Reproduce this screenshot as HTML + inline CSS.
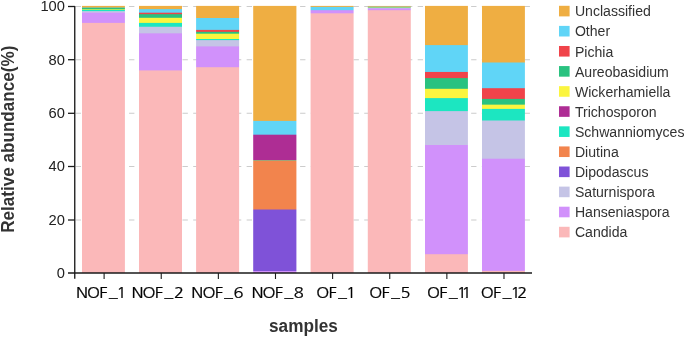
<!DOCTYPE html>
<html lang="en"><head><meta charset="utf-8"><title>Relative abundance</title>
<style>
html,body{margin:0;padding:0;background:#fff;}
body{width:685px;height:337px;overflow:hidden;}
svg{display:block;font-family:"Liberation Sans",sans-serif;}
.tk{font-size:14.7px;fill:#222;}
.xl{font-family:"NanumGothic","Liberation Sans",sans-serif;font-size:16.5px;fill:#000;stroke:#000;stroke-width:0.3px;}
.lg{font-size:14.1px;fill:#333;}
.ti{font-size:17.2px;font-weight:bold;fill:#333;}
</style></head><body>
<svg width="685" height="337" viewBox="0 0 685 337">
<rect width="685" height="337" fill="#fff"/>
<g stroke="#cccccc" stroke-width="1.1" stroke-dasharray="5.35 5.34" stroke-dashoffset="-0.1" fill="none">
<line x1="75.5" x2="532" y1="220.00" y2="220.00"/>
<line x1="75.5" x2="532" y1="166.50" y2="166.50"/>
<line x1="75.5" x2="532" y1="113.30" y2="113.30"/>
<line x1="75.5" x2="532" y1="59.70" y2="59.70"/>
<line x1="75.5" x2="532" y1="6.50" y2="6.50"/>
</g>
<g>
<rect x="82" y="5.9" width="42" height="267.10" fill="#EFAE42"/><rect x="82" y="7.65" width="42" height="265.35" fill="#60D5F7"/><rect x="82" y="7.82" width="42" height="265.18" fill="#29C280"/><rect x="82" y="9.25" width="42" height="263.75" fill="#FBF53F"/><rect x="82" y="9.85" width="42" height="263.15" fill="#1CE6C1"/><rect x="82" y="11.1" width="42" height="261.90" fill="#C5C4E6"/><rect x="82" y="12.65" width="42" height="260.35" fill="#D191FB"/><rect x="82" y="22.9" width="42" height="250.10" fill="#FBB8B9"/>
<g opacity="0.90"><rect x="124" y="5.9" width="1" height="267.10" fill="#EFAE42"/><rect x="124" y="7.65" width="1" height="265.35" fill="#60D5F7"/><rect x="124" y="7.82" width="1" height="265.18" fill="#29C280"/><rect x="124" y="9.25" width="1" height="263.75" fill="#FBF53F"/><rect x="124" y="9.85" width="1" height="263.15" fill="#1CE6C1"/><rect x="124" y="11.1" width="1" height="261.90" fill="#C5C4E6"/><rect x="124" y="12.65" width="1" height="260.35" fill="#D191FB"/><rect x="124" y="22.9" width="1" height="250.10" fill="#FBB8B9"/></g>
<rect x="139" y="5.9" width="43" height="267.10" fill="#EFAE42"/><rect x="139" y="9.1" width="43" height="263.90" fill="#60D5F7"/><rect x="139" y="12.7" width="43" height="260.30" fill="#F0434A"/><rect x="139" y="14.2" width="43" height="258.80" fill="#29C280"/><rect x="139" y="17.8" width="43" height="255.20" fill="#FBF53F"/><rect x="139" y="22.9" width="43" height="250.10" fill="#1CE6C1"/><rect x="139" y="26.75" width="43" height="246.25" fill="#C5C4E6"/><rect x="139" y="33.35" width="43" height="239.65" fill="#D191FB"/><rect x="139" y="70.4" width="43" height="202.60" fill="#FBB8B9"/>
<rect x="197" y="5.9" width="42" height="267.10" fill="#EFAE42"/><rect x="197" y="18" width="42" height="255.00" fill="#60D5F7"/><rect x="197" y="29.9" width="42" height="243.10" fill="#F0434A"/><rect x="197" y="31.86" width="42" height="241.14" fill="#29C280"/><rect x="197" y="33.7" width="42" height="239.30" fill="#FBF53F"/><rect x="197" y="39" width="42" height="234.00" fill="#1CE6C1"/><rect x="197" y="40.1" width="42" height="232.90" fill="#C5C4E6"/><rect x="197" y="46.4" width="42" height="226.60" fill="#D191FB"/><rect x="197" y="67.2" width="42" height="205.80" fill="#FBB8B9"/>
<g opacity="0.90"><rect x="196" y="5.9" width="1" height="267.10" fill="#EFAE42"/><rect x="196" y="18" width="1" height="255.00" fill="#60D5F7"/><rect x="196" y="29.9" width="1" height="243.10" fill="#F0434A"/><rect x="196" y="31.86" width="1" height="241.14" fill="#29C280"/><rect x="196" y="33.7" width="1" height="239.30" fill="#FBF53F"/><rect x="196" y="39" width="1" height="234.00" fill="#1CE6C1"/><rect x="196" y="40.1" width="1" height="232.90" fill="#C5C4E6"/><rect x="196" y="46.4" width="1" height="226.60" fill="#D191FB"/><rect x="196" y="67.2" width="1" height="205.80" fill="#FBB8B9"/></g>
<g opacity="0.10"><rect x="239" y="5.9" width="1" height="267.10" fill="#EFAE42"/><rect x="239" y="18" width="1" height="255.00" fill="#60D5F7"/><rect x="239" y="29.9" width="1" height="243.10" fill="#F0434A"/><rect x="239" y="31.86" width="1" height="241.14" fill="#29C280"/><rect x="239" y="33.7" width="1" height="239.30" fill="#FBF53F"/><rect x="239" y="39" width="1" height="234.00" fill="#1CE6C1"/><rect x="239" y="40.1" width="1" height="232.90" fill="#C5C4E6"/><rect x="239" y="46.4" width="1" height="226.60" fill="#D191FB"/><rect x="239" y="67.2" width="1" height="205.80" fill="#FBB8B9"/></g>
<rect x="254" y="5.9" width="42" height="267.10" fill="#EFAE42"/><rect x="254" y="120.9" width="42" height="152.10" fill="#60D5F7"/><rect x="254" y="134.7" width="42" height="138.30" fill="#AE2D94"/><rect x="254" y="160.1" width="42" height="112.90" fill="#1CE6C1"/><rect x="254" y="160.4" width="42" height="112.60" fill="#F2844D"/><rect x="254" y="209.5" width="42" height="63.50" fill="#7F52D8"/><rect x="254" y="271" width="42" height="2.00" fill="#D191FB"/>
<g opacity="0.80"><rect x="253" y="5.9" width="1" height="267.10" fill="#EFAE42"/><rect x="253" y="120.9" width="1" height="152.10" fill="#60D5F7"/><rect x="253" y="134.7" width="1" height="138.30" fill="#AE2D94"/><rect x="253" y="160.1" width="1" height="112.90" fill="#1CE6C1"/><rect x="253" y="160.4" width="1" height="112.60" fill="#F2844D"/><rect x="253" y="209.5" width="1" height="63.50" fill="#7F52D8"/><rect x="253" y="271" width="1" height="2.00" fill="#D191FB"/></g>
<g opacity="0.40"><rect x="296" y="5.9" width="1" height="267.10" fill="#EFAE42"/><rect x="296" y="120.9" width="1" height="152.10" fill="#60D5F7"/><rect x="296" y="134.7" width="1" height="138.30" fill="#AE2D94"/><rect x="296" y="160.1" width="1" height="112.90" fill="#1CE6C1"/><rect x="296" y="160.4" width="1" height="112.60" fill="#F2844D"/><rect x="296" y="209.5" width="1" height="63.50" fill="#7F52D8"/><rect x="296" y="271" width="1" height="2.00" fill="#D191FB"/></g>
<rect x="311" y="5.9" width="42" height="267.10" fill="#EFAE42"/><rect x="311" y="6.9" width="42" height="266.10" fill="#60D5F7"/><rect x="311" y="10.2" width="42" height="262.80" fill="#D191FB"/><rect x="311" y="13.3" width="42" height="259.70" fill="#FBB8B9"/>
<g opacity="0.40"><rect x="310" y="5.9" width="1" height="267.10" fill="#EFAE42"/><rect x="310" y="6.9" width="1" height="266.10" fill="#60D5F7"/><rect x="310" y="10.2" width="1" height="262.80" fill="#D191FB"/><rect x="310" y="13.3" width="1" height="259.70" fill="#FBB8B9"/></g>
<g opacity="0.60"><rect x="353" y="5.9" width="1" height="267.10" fill="#EFAE42"/><rect x="353" y="6.9" width="1" height="266.10" fill="#60D5F7"/><rect x="353" y="10.2" width="1" height="262.80" fill="#D191FB"/><rect x="353" y="13.3" width="1" height="259.70" fill="#FBB8B9"/></g>
<rect x="368" y="5.95" width="42" height="267.05" fill="#EFAE42"/><rect x="368" y="6.7" width="42" height="266.30" fill="#60D5F7"/><rect x="368" y="7.35" width="42" height="265.65" fill="#29C280"/><rect x="368" y="7.6" width="42" height="265.40" fill="#FBF53F"/><rect x="368" y="7.85" width="42" height="265.15" fill="#C5C4E6"/><rect x="368" y="8.4" width="42" height="264.60" fill="#D191FB"/><rect x="368" y="10.2" width="42" height="262.80" fill="#FBB8B9"/>
<g opacity="0.20"><rect x="367" y="5.95" width="1" height="267.05" fill="#EFAE42"/><rect x="367" y="6.7" width="1" height="266.30" fill="#60D5F7"/><rect x="367" y="7.35" width="1" height="265.65" fill="#29C280"/><rect x="367" y="7.6" width="1" height="265.40" fill="#FBF53F"/><rect x="367" y="7.85" width="1" height="265.15" fill="#C5C4E6"/><rect x="367" y="8.4" width="1" height="264.60" fill="#D191FB"/><rect x="367" y="10.2" width="1" height="262.80" fill="#FBB8B9"/></g>
<g opacity="0.80"><rect x="410" y="5.95" width="1" height="267.05" fill="#EFAE42"/><rect x="410" y="6.7" width="1" height="266.30" fill="#60D5F7"/><rect x="410" y="7.35" width="1" height="265.65" fill="#29C280"/><rect x="410" y="7.6" width="1" height="265.40" fill="#FBF53F"/><rect x="410" y="7.85" width="1" height="265.15" fill="#C5C4E6"/><rect x="410" y="8.4" width="1" height="264.60" fill="#D191FB"/><rect x="410" y="10.2" width="1" height="262.80" fill="#FBB8B9"/></g>
<rect x="425" y="5.9" width="42" height="267.10" fill="#EFAE42"/><rect x="425" y="45.1" width="42" height="227.90" fill="#60D5F7"/><rect x="425" y="71.95" width="42" height="201.05" fill="#F0434A"/><rect x="425" y="78.1" width="42" height="194.90" fill="#29C280"/><rect x="425" y="88.8" width="42" height="184.20" fill="#FBF53F"/><rect x="425" y="98.1" width="42" height="174.90" fill="#1CE6C1"/><rect x="425" y="111.1" width="42" height="161.90" fill="#C5C4E6"/><rect x="425" y="145" width="42" height="128.00" fill="#D191FB"/><rect x="425" y="254.2" width="42" height="18.80" fill="#FBB8B9"/>
<g opacity="0.90"><rect x="467" y="5.9" width="1" height="267.10" fill="#EFAE42"/><rect x="467" y="45.1" width="1" height="227.90" fill="#60D5F7"/><rect x="467" y="71.95" width="1" height="201.05" fill="#F0434A"/><rect x="467" y="78.1" width="1" height="194.90" fill="#29C280"/><rect x="467" y="88.8" width="1" height="184.20" fill="#FBF53F"/><rect x="467" y="98.1" width="1" height="174.90" fill="#1CE6C1"/><rect x="467" y="111.1" width="1" height="161.90" fill="#C5C4E6"/><rect x="467" y="145" width="1" height="128.00" fill="#D191FB"/><rect x="467" y="254.2" width="1" height="18.80" fill="#FBB8B9"/></g>
<rect x="482" y="5.9" width="42" height="267.10" fill="#EFAE42"/><rect x="482" y="62.5" width="42" height="210.50" fill="#60D5F7"/><rect x="482" y="88.2" width="42" height="184.80" fill="#F0434A"/><rect x="482" y="98.9" width="42" height="174.10" fill="#29C280"/><rect x="482" y="104.65" width="42" height="168.35" fill="#FBF53F"/><rect x="482" y="108.9" width="42" height="164.10" fill="#1CE6C1"/><rect x="482" y="120.5" width="42" height="152.50" fill="#C5C4E6"/><rect x="482" y="158.7" width="42" height="114.30" fill="#D191FB"/><rect x="482" y="270.9" width="42" height="2.10" fill="#FBB8B9"/>
<g opacity="0.90"><rect x="524" y="5.9" width="1" height="267.10" fill="#EFAE42"/><rect x="524" y="62.5" width="1" height="210.50" fill="#60D5F7"/><rect x="524" y="88.2" width="1" height="184.80" fill="#F0434A"/><rect x="524" y="98.9" width="1" height="174.10" fill="#29C280"/><rect x="524" y="104.65" width="1" height="168.35" fill="#FBF53F"/><rect x="524" y="108.9" width="1" height="164.10" fill="#1CE6C1"/><rect x="524" y="120.5" width="1" height="152.50" fill="#C5C4E6"/><rect x="524" y="158.7" width="1" height="114.30" fill="#D191FB"/><rect x="524" y="270.9" width="1" height="2.10" fill="#FBB8B9"/></g>
</g>
<g stroke="#1c1c1c" stroke-width="1.3" fill="none">
<line x1="74.75" x2="74.75" y1="5.9" y2="278.8" stroke-width="1.35"/>
<line x1="68" x2="532" y1="272.95" y2="272.95" stroke="#1a1a1a" stroke-width="1.5"/>
<line x1="68" x2="75" y1="220.00" y2="220.00"/>
<line x1="68" x2="75" y1="166.50" y2="166.50"/>
<line x1="68" x2="75" y1="113.30" y2="113.30"/>
<line x1="68" x2="75" y1="59.70" y2="59.70"/>
<line x1="68" x2="75" y1="6.50" y2="6.50"/>
<line x1="104.11" x2="104.11" y1="273" y2="279" stroke-width="1.1"/>
<line x1="161.24" x2="161.24" y1="273" y2="279" stroke-width="1.1"/>
<line x1="218.36" x2="218.36" y1="273" y2="279" stroke-width="1.1"/>
<line x1="275.49" x2="275.49" y1="273" y2="279" stroke-width="1.1"/>
<line x1="332.61" x2="332.61" y1="273" y2="279" stroke-width="1.1"/>
<line x1="389.74" x2="389.74" y1="273" y2="279" stroke-width="1.1"/>
<line x1="446.86" x2="446.86" y1="273" y2="279" stroke-width="1.1"/>
<line x1="503.99" x2="503.99" y1="273" y2="279" stroke-width="1.1"/>
</g>
<g class="tk" text-anchor="end">
<text transform="translate(64.9,277.95) scale(1,1.04)">0</text>
<text transform="translate(64.9,224.95) scale(1,1.04)">20</text>
<text transform="translate(64.9,171.45) scale(1,1.04)">40</text>
<text transform="translate(64.9,118.25) scale(1,1.04)">60</text>
<text transform="translate(64.9,64.65) scale(1,1.04)">80</text>
<text transform="translate(64.9,11.45) scale(1,1.04)">100</text>
</g>
<g class="xl" transform="translate(0,297.55) scale(1,0.83)">
<text y="0" x="76.01 87.13 99.34 108.73 116.48" dy="0 0 0 -0.5 0.5">NOF_1</text>
<text y="0" x="131.51 142.63 154.84 164.23 174.00" dy="0 0 0 -0.5 0.5">NOF_2</text>
<text y="0" x="191.31 202.43 214.64 224.03 233.50" dy="0 0 0 -0.5 0.5">NOF_6</text>
<text y="0" x="251.51 262.63 274.84 284.23 293.74" dy="0 0 0 -0.5 0.5">NOF_8</text>
<text y="0" x="316.23 328.49 337.89 345.89" dy="0 0 -0.5 0.5">OF_1</text>
<text y="0" x="369.23 381.49 390.89 400.57" dy="0 0 -0.5 0.5">OF_5</text>
<text y="0" x="427.03 439.29 448.69 456.69 461.54" dy="0 0 -0.5 0.5 0">OF_11</text>
<text y="0" x="480.83 493.09 502.49 510.49 517.26" dy="0 0 -0.5 0.5 0">OF_12</text>
</g>
<text class="ti" text-anchor="middle" transform="translate(303.4,332.1) scale(1,1.04)">samples</text>
<text class="ti" style="font-size:17.1px" text-anchor="middle" transform="translate(13.9,139.2) rotate(-90) scale(1,1.08)">Relative abundance(%)</text>
<g class="lg">
<rect x="559" y="5.80" width="10.6" height="10.6" fill="#EFAE42"/>
<text transform="translate(574.9,16.35) scale(1,1.03)">Unclassified</text>
<rect x="559" y="25.89" width="10.6" height="10.6" fill="#60D5F7"/>
<text transform="translate(574.9,36.44) scale(1,1.03)">Other</text>
<rect x="559" y="45.98" width="10.6" height="10.6" fill="#F0434A"/>
<text transform="translate(574.9,56.53) scale(1,1.03)">Pichia</text>
<rect x="559" y="66.07" width="10.6" height="10.6" fill="#29C280"/>
<text transform="translate(574.9,76.62) scale(1,1.03)">Aureobasidium</text>
<rect x="559" y="86.16" width="10.6" height="10.6" fill="#FBF53F"/>
<text transform="translate(574.9,96.71) scale(1,1.03)">Wickerhamiella</text>
<rect x="559" y="106.25" width="10.6" height="10.6" fill="#AE2D94"/>
<text transform="translate(574.9,116.80) scale(1,1.03)">Trichosporon</text>
<rect x="559" y="126.34" width="10.6" height="10.6" fill="#1CE6C1"/>
<text transform="translate(574.9,136.89) scale(1,1.03)">Schwanniomyces</text>
<rect x="559" y="146.43" width="10.6" height="10.6" fill="#F2844D"/>
<text transform="translate(574.9,156.98) scale(1,1.03)">Diutina</text>
<rect x="559" y="166.52" width="10.6" height="10.6" fill="#7F52D8"/>
<text transform="translate(574.9,177.07) scale(1,1.03)">Dipodascus</text>
<rect x="559" y="186.61" width="10.6" height="10.6" fill="#C5C4E6"/>
<text transform="translate(574.9,197.16) scale(1,1.03)">Saturnispora</text>
<rect x="559" y="206.70" width="10.6" height="10.6" fill="#D191FB"/>
<text transform="translate(574.9,217.25) scale(1,1.03)">Hanseniaspora</text>
<rect x="559" y="226.79" width="10.6" height="10.6" fill="#FBB8B9"/>
<text transform="translate(574.9,237.34) scale(1,1.03)">Candida</text>
</g>
</svg></body></html>
